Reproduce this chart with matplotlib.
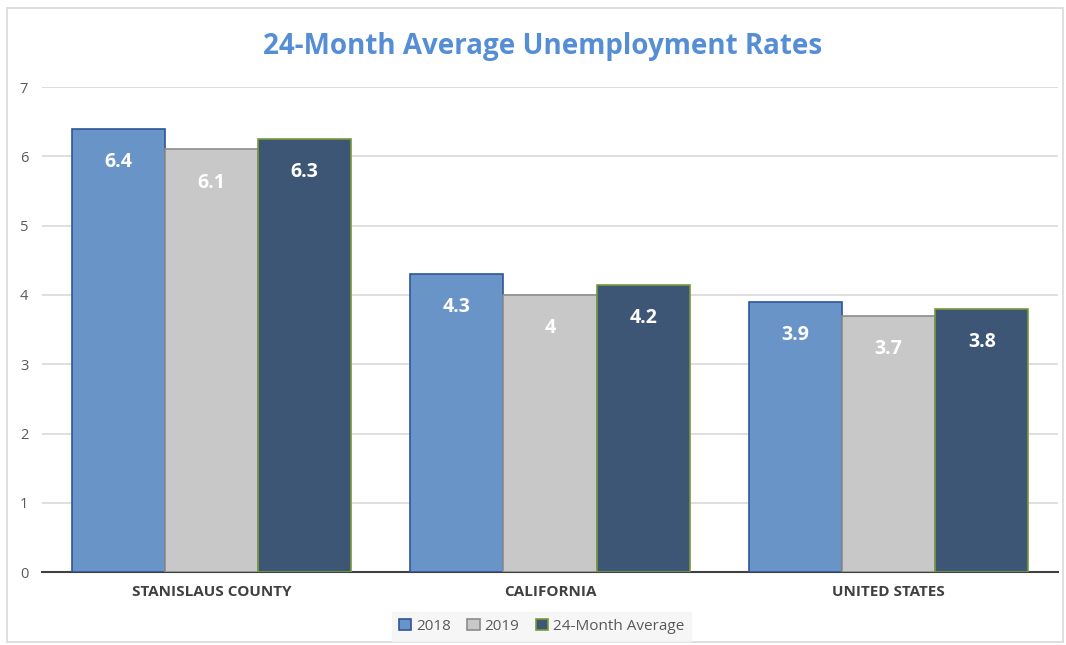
import numpy as np
import matplotlib.pyplot as plt
from matplotlib.patches import Rectangle

categories = ['STANISLAUS COUNTY', 'CALIFORNIA', 'UNITED STATES']
series_names = ['2018', '2019', '24-Month Average']
rate_2018 = [6.4, 4.3, 3.9]
rate_2019 = [6.1, 4.0, 3.7]
rate_avg = [6.25, 4.15, 3.8]
labels_2018 = ['6.4', '4.3', '3.9']
labels_2019 = ['6.1', '4', '3.7']
labels_avg = ['6.3', '4.2', '3.8']

fills = ['#6894C8', '#C8C8C8', '#3D5675']
edges = ['#2F5597', '#8C8C8C', '#7A9A3A']

plt.rcParams['font.family'] = ['Open Sans', 'DejaVu Sans']

fig = plt.figure(figsize=(10.66, 6.45), dpi=100)
fig.patches.append(Rectangle((0.007, 0.005), 0.99, 0.982, transform=fig.transFigure,
                             fill=False, edgecolor='#D9D9D9', linewidth=1.2))
ax = fig.add_axes([0.0395, 0.113, 0.953, 0.752])

x = np.arange(len(categories))
w = 0.275
all_vals = [rate_2018, rate_2019, rate_avg]
all_labels = [labels_2018, labels_2019, labels_avg]
for i, (vals, labs) in enumerate(zip(all_vals, all_labels)):
    pos = x + (i - 1) * w
    bars = ax.bar(pos, vals, w, color=fills[i], edgecolor=edges[i], linewidth=1.2,
                  label=series_names[i], zorder=3)
    for b, lab in zip(bars, labs):
        ax.annotate(lab, (b.get_x() + b.get_width() / 2, b.get_height()),
                    xytext=(0, -24), textcoords='offset points', ha='center', va='center',
                    color='white', fontsize=14, fontweight='bold', zorder=4)

ax.set_xlim(-0.5, 2.5)
ax.set_ylim(0, 7)
ax.set_yticks(range(8))
ax.yaxis.grid(True, color='#D9D9D9', linewidth=1.2, zorder=0)
ax.set_xticks(x)
ax.set_xticklabels(categories, fontweight='bold', fontsize=11, color='#404040')
ax.tick_params(axis='y', length=0, labelsize=10.5, labelcolor='#595959', pad=10)
ax.tick_params(axis='x', length=0, pad=9)
for s in ['top', 'right', 'left']:
    ax.spines[s].set_visible(False)
ax.spines['bottom'].set_color('#404040')
ax.spines['bottom'].set_linewidth(1.5)

fig.text(0.509, 0.928, '24-Month Average Unemployment Rates', ha='center', va='center',
         fontsize=20, fontweight='bold', color='#558ED5')

leg = fig.legend(loc='center', bbox_to_anchor=(0.508, 0.029), ncol=3, frameon=True,
                 fontsize=11, handlelength=0.8, handleheight=0.8, handletextpad=0.3,
                 columnspacing=1.1, borderpad=0.45, fancybox=False)
leg.get_frame().set_facecolor('#F4F4F4')
leg.get_frame().set_edgecolor('#F4F4F4')
for t in leg.get_texts():
    t.set_color('#595959')

fig.savefig('out.png', dpi=100)
